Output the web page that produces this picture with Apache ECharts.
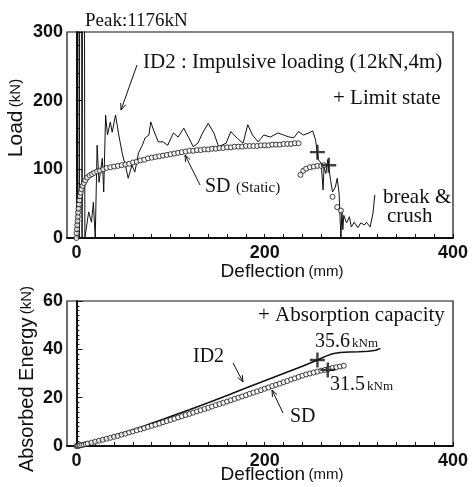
<!DOCTYPE html>
<html>
<head>
<meta charset="utf-8">
<script src="https://cdn.jsdelivr.net/npm/echarts@6/dist/echarts.min.js"></script>
<style>
  html, body { margin: 0; padding: 0; background: #fff; }
  #chart { width: 473px; height: 487px; }
</style>
</head>
<body>
<div id="chart"></div>
<script>
  // 荷重-変位 (上) と 吸収エネルギー-変位 (下)
  var xTicks = [0, 20, 40, 60, 80, 100, 120, 140, 160, 180, 200, 220, 240, 260, 280, 300, 320, 340, 360, 380, 400];
  var xLabels = [0, 200, 400];

  // ID2 : impulsive loading, [deflection mm, load kN]
  var id2Load = [
    [0, 0], [1, 0], [2, 1176], [3, 0], [4.5, 1176], [6, 0], [7.5, 1176], [9, 0], [11, 0],
    [13, 38], [16, 23], [18, 52], [20, 0], [22, 135], [24, 81], [27.5, 116], [29, 67],
    [31, 179], [33, 150], [36, 169], [38, 154], [41.5, 179], [45, 150], [49, 121], [52, 106],
    [55, 87], [59, 106], [62, 96], [66, 124], [70, 135], [73, 146], [77, 150], [79, 169],
    [82, 157], [87, 140], [92, 140], [97, 135], [103, 153], [108, 147], [114, 160], [119, 147],
    [124, 133], [129, 138], [134, 153], [140, 167], [146, 153], [151, 133], [159, 138],
    [164, 155], [171, 145], [177, 138], [182, 165], [187, 150], [193, 140], [199, 150],
    [206, 147], [214, 153], [220, 150], [226, 147], [231, 146], [236, 155], [241, 150],
    [247, 153], [251, 156], [254, 143], [257, 114], [260, 109], [262, 70], [263, 103],
    [265, 94], [267, 114], [268, 103], [270, 84], [272, 67], [275, 74], [277, 87], [279, 65],
    [280, 31], [281, 1], [282, 41], [283, 12], [284, 33], [287, 22], [290, 31], [292, 16],
    [295, 23], [299, 15], [302, 22], [306, 19], [308, 23], [312, 16], [315, 36], [317, 63]
  ];

  // SD : static test, [deflection mm, load kN]
  var sdLoad = [
    [0, 0], [0.3, 7], [0.6, 13], [0.9, 19], [1.2, 25], [1.5, 31], [1.8, 37], [2.2, 43],
    [2.6, 49], [3.1, 55], [3.7, 61], [4.5, 66], [5.4, 71], [6.5, 76], [8, 80], [9.5, 84],
    [11.5, 88], [14, 91], [16.5, 93], [19, 95], [22, 97], [25, 98], [28.5, 100], [32, 102],
    [36, 103], [40, 104], [44, 105], [48, 106], [52, 107], [56, 108], [60, 110], [64, 111],
    [68, 113], [72, 114], [76, 116], [80, 117], [84, 118], [88, 119], [92, 120], [96, 121],
    [100, 122], [104, 123], [108, 124], [112, 125], [116, 126], [120, 127], [124, 127],
    [128, 128], [132, 128], [136, 129], [140, 129], [144, 130], [148, 130], [152, 131],
    [156, 131], [160, 132], [164, 132], [168, 133], [172, 133], [176, 133], [180, 134],
    [184, 134], [188, 134], [192, 134], [196, 135], [200, 135], [204, 135], [208, 136],
    [212, 136], [216, 136], [220, 137], [224, 137], [228, 137], [232, 138], [236, 138],
    [238, 92], [241, 98], [244, 101], [248, 103], [252, 104], [256, 105], [260, 105],
    [263, 106], [272, 60], [277, 45], [281, 40]
  ];

  var limitState = [[256, 125], [268, 106]];

  // 吸収エネルギー [deflection mm, kNm]
  var id2Energy = [
    [0, 0], [3, 0.8], [6, 1.0], [10, 1.2], [15, 1.4], [20, 1.8], [30, 2.8], [40, 4.0],
    [50, 5.3], [60, 6.6], [70, 8.0], [80, 9.4], [90, 10.8], [100, 12.2], [120, 15.0],
    [140, 17.9], [160, 20.9], [180, 24.0], [200, 27.0], [220, 30.0], [240, 33.0],
    [256, 35.6], [265, 37.2], [272, 38.2], [280, 38.7], [290, 38.9], [300, 39.0],
    [310, 39.2], [318, 39.6], [323, 40.4]
  ];

  var sdEnergy = [
    [0, 0], [1, 0.1], [2, 0.1], [3, 0.2], [4, 0.3], [6, 0.4], [8, 0.6], [10, 0.8],
    [12, 1.0], [16, 1.4], [20, 1.8], [24, 2.2], [28, 2.6], [32, 3.0], [36, 3.4], [40, 3.8],
    [44, 4.2], [48, 4.7], [52, 5.1], [56, 5.6], [60, 6.0], [64, 6.5], [68, 6.9], [72, 7.4],
    [76, 7.9], [80, 8.4], [84, 8.8], [88, 9.3], [92, 9.8], [96, 10.3], [100, 10.8],
    [104, 11.3], [108, 11.8], [112, 12.3], [116, 12.8], [120, 13.3], [124, 13.8], [128, 14.3],
    [132, 14.8], [136, 15.3], [140, 15.8], [144, 16.3], [148, 16.9], [152, 17.4], [156, 17.9],
    [160, 18.4], [164, 18.9], [168, 19.5], [172, 20.0], [176, 20.5], [180, 21.0], [184, 21.6],
    [188, 22.1], [192, 22.6], [196, 23.1], [200, 23.7], [204, 24.2], [208, 24.8], [212, 25.3],
    [216, 25.8], [220, 26.4], [224, 26.9], [228, 27.5], [232, 28.0], [236, 28.6], [240, 29.1],
    [244, 29.6], [248, 30.0], [252, 30.4], [256, 30.8], [260, 31.2], [264, 31.5], [268, 31.9],
    [272, 32.3], [276, 32.6], [280, 32.9], [284, 33.2]
  ];

  var absorption = [[256, 35.6], [267, 31.5]];

  var SANS = 'Liberation Sans';
  var SERIF = 'Liberation Serif';
  var INK = '#111';
  var PLUS = 'path://M0.42,0H0.58V0.42H1V0.58H0.58V1H0.42V0.58H0V0.42H0.42Z';

  function xAxisOf(i) {
    return {
      type: 'value', gridIndex: i, min: -10, max: 400,
      axisLine: { onZero: false, lineStyle: { color: INK, width: 2 } },
      axisTick: { inside: true, length: 4, customValues: xTicks, lineStyle: { color: INK } },
      axisLabel: { customValues: xLabels, margin: 6, color: INK, fontSize: 18, fontWeight: 'bold', fontFamily: SANS },
      splitLine: { show: false }
    };
  }
  function yAxisOf(i, max, interval, minor) {
    return {
      type: 'value', gridIndex: i, min: 0, max: max, interval: interval,
      axisLine: { show: true, lineStyle: { color: INK, width: 2 } },
      axisTick: { inside: true, length: 6, lineStyle: { color: INK } },
      minorTick: { show: true, splitNumber: minor, length: 3, lineStyle: { color: INK } },
      axisLabel: { margin: 4, color: INK, fontSize: 18, fontWeight: 'bold', fontFamily: SANS },
      splitLine: { show: false }
    };
  }

  function txt(x, y, text, size, extra) {
    var s = { text: text, x: x, y: y, fill: INK, font: size + 'px "' + SERIF + '"',
              textVerticalAlign: 'middle', verticalAlign: 'middle' };
    if (extra) for (var k in extra) s[k] = extra[k];
    return { type: 'text', z: 100, style: s };
  }
  function arrow(x1, y1, x2, y2) {
    var a = Math.atan2(y2 - y1, x2 - x1), L = 7, w = 0.38;
    return [
      { type: 'line', z: 100, shape: { x1: x1, y1: y1, x2: x2, y2: y2 }, style: { stroke: INK, lineWidth: 1 } },
      { type: 'polyline', z: 100, shape: { points: [
          [x2 - L * Math.cos(a - w), y2 - L * Math.sin(a - w)], [x2, y2],
          [x2 - L * Math.cos(a + w), y2 - L * Math.sin(a + w)]] },
        style: { stroke: INK, lineWidth: 1, fill: null } }
    ];
  }
  function axisTitle(x, y, main, unit, mainSize, unitSize, rot) {
    return {
      type: 'text', z: 100, x: x, y: y, rotation: rot,
      style: {
        text: '{a|' + main + '} {b|' + unit + '}', x: 0, y: 0,
        textAlign: 'center', align: 'center', textVerticalAlign: 'middle', verticalAlign: 'middle',
        rich: {
          a: { fontSize: mainSize, fontFamily: SANS, fill: INK, color: INK },
          b: { fontSize: unitSize, fontFamily: SANS, fill: INK, color: INK }
        }
      }
    };
  }

  var graphics = [
    txt(85, 21, 'Peak:1176kN', 19),
    txt(143, 62, 'ID2 : Impulsive loading (12kN,4m)', 21),
    txt(333, 98, '+ Limit state', 21),
    txt(205, 187, 'SD', 20),
    txt(236, 188, '(Static)', 15),
    txt(383, 197, 'break &', 21),
    txt(387, 216, 'crush', 21),
    txt(258, 315, '+ Absorption capacity', 21),
    txt(315, 342, '35.6', 20),
    txt(352, 344, 'kNm', 13),
    txt(330, 385, '31.5', 20),
    txt(367, 387, 'kNm', 13),
    txt(290, 417, 'SD', 20),
    txt(193, 357, 'ID2', 20),
    axisTitle(282, 272, 'Deflection', '(mm)', 19, 15, 0),
    axisTitle(282, 475, 'Deflection', '(mm)', 19, 15, 0),
    axisTitle(16, 118, 'Load', '(kN)', 21, 15, Math.PI / 2),
    axisTitle(27, 379, 'Absorbed Energy', '(kN)', 20, 15, Math.PI / 2)
  ]
    .concat(arrow(137, 65, 121, 110))
    .concat(arrow(200, 185, 185, 155))
    .concat(arrow(233, 363, 243, 382))
    .concat(arrow(283, 413, 272, 390));

  var myChart = echarts.init(document.getElementById('chart'));
  myChart.setOption({
    animation: false,
    backgroundColor: '#fff',
    grid: [
      { left: 67, top: 32, width: 386, height: 206, show: true, borderColor: INK, borderWidth: 1.2 },
      { left: 67, top: 301, width: 386, height: 145, show: true, borderColor: INK, borderWidth: 1.2 }
    ],
    xAxis: [xAxisOf(0), xAxisOf(1)],
    yAxis: [yAxisOf(0, 300, 100, 5), yAxisOf(1, 60, 20, 10)],
    graphic: graphics,
    series: [
      {
        name: 'ID2', type: 'line', xAxisIndex: 0, yAxisIndex: 0, showSymbol: false,
        lineStyle: { color: INK, width: 1 }, data: id2Load, z: 3
      },
      {
        name: 'SD', type: 'scatter', xAxisIndex: 0, yAxisIndex: 0, symbol: 'circle', symbolSize: 5,
        itemStyle: { color: '#fff', borderColor: INK, borderWidth: 1 }, data: sdLoad, z: 4
      },
      {
        name: 'Limit state', type: 'scatter', xAxisIndex: 0, yAxisIndex: 0, symbol: PLUS, symbolSize: 15,
        itemStyle: { color: INK }, data: limitState, z: 5
      },
      {
        name: 'ID2 energy', type: 'line', xAxisIndex: 1, yAxisIndex: 1, showSymbol: false,
        lineStyle: { color: INK, width: 1.5 }, data: id2Energy, z: 3
      },
      {
        name: 'SD energy', type: 'scatter', xAxisIndex: 1, yAxisIndex: 1, symbol: 'circle', symbolSize: 5,
        itemStyle: { color: '#fff', borderColor: INK, borderWidth: 1 }, data: sdEnergy, z: 4
      },
      {
        name: 'Absorption capacity', type: 'scatter', xAxisIndex: 1, yAxisIndex: 1, symbol: PLUS, symbolSize: 15,
        itemStyle: { color: INK }, data: absorption, z: 5
      }
    ]
  });
  window.addEventListener('resize', function () { myChart.resize(); });
</script>
</body>
</html>
